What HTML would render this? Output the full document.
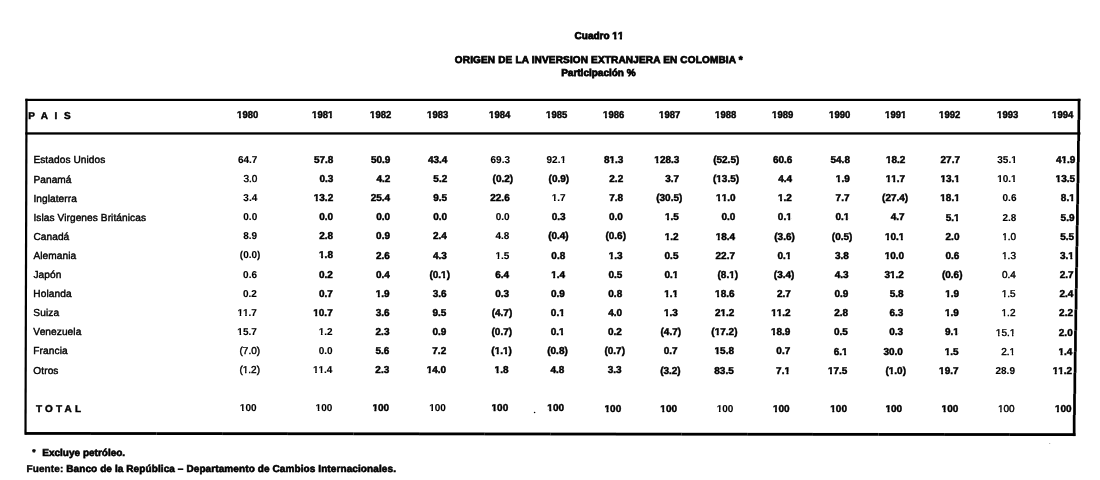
<!DOCTYPE html>
<html><head><meta charset="utf-8"><title>Cuadro 11</title>
<style>
html,body{margin:0;padding:0;background:#fff;}
body{width:1100px;height:480px;position:relative;overflow:hidden;}
.t{position:absolute;white-space:nowrap;text-rendering:geometricPrecision;font-family:"Liberation Sans", Arial, Helvetica, sans-serif;font-size:10px;line-height:10px;color:#000;-webkit-text-stroke:0.4px #000;}
.b{font-weight:bold;-webkit-text-stroke:0.45px #000;}
.m{font-weight:bold;-webkit-text-stroke:0.1px #000;}
.lab{font-size:10.15px;letter-spacing:0.08px;-webkit-text-stroke:0.4px #000;}
.n{font-weight:normal;}
.o{display:inline-block;clip-path:polygon(-2px -4px,8px -4px,8px 5.0px,3.98px 5.0px,3.98px 12px,2.06px 12px,2.06px 5.0px,-2px 5.0px);}
.n .o{clip-path:polygon(-2px -4px,8px -4px,8px 5.45px,3.63px 5.45px,3.63px 12px,2.28px 12px,2.28px 5.45px,-2px 5.45px);}
.m .o{clip-path:polygon(-2px -4px,8px -4px,8px 5.1px,3.85px 5.1px,3.85px 12px,2.2px 12px,2.2px 5.1px,-2px 5.1px);}
.hv .o{clip-path:polygon(-2px -4px,8px -4px,8px 4.75px,4.1px 4.75px,4.1px 12px,1.9px 12px,1.9px 4.75px,-2px 4.75px);}

.hd{transform:scaleX(0.95);transform-origin:100% 50%;}
.hv{-webkit-text-stroke:0.75px #000;}
.ft{-webkit-text-stroke:0.6px #000;}
.lt{-webkit-text-stroke:0.4px #000;}
.c{transform:translateX(-50%);}
.r{text-align:right;}
.p{margin-right:-3.33px;}
svg{position:absolute;left:0;top:0;}
</style></head><body>
<svg width="1100" height="480" viewBox="0 0 1100 480" fill="#000">
<rect x="25.30" y="98.8" width="1055.20" height="2.2"/>
<rect x="25.30" y="132.3" width="1055.20" height="2.3"/>
<rect x="25.27" y="432.04" width="65.68" height="2.8"/>
<rect x="90.91" y="432.12" width="65.68" height="2.8"/>
<rect x="156.54" y="432.19" width="65.68" height="2.8"/>
<rect x="222.17" y="432.27" width="65.68" height="2.8"/>
<rect x="287.80" y="432.35" width="65.68" height="2.8"/>
<rect x="353.44" y="432.42" width="65.68" height="2.8"/>
<rect x="419.07" y="432.50" width="65.68" height="2.8"/>
<rect x="484.70" y="432.58" width="65.68" height="2.8"/>
<rect x="550.33" y="432.65" width="65.68" height="2.8"/>
<rect x="615.97" y="432.73" width="65.68" height="2.8"/>
<rect x="681.60" y="432.81" width="65.68" height="2.8"/>
<rect x="747.23" y="432.88" width="65.68" height="2.8"/>
<rect x="812.86" y="432.96" width="65.68" height="2.8"/>
<rect x="878.50" y="433.03" width="65.68" height="2.8"/>
<rect x="944.13" y="433.11" width="65.68" height="2.8"/>
<rect x="1009.76" y="433.19" width="65.68" height="2.8"/>
<polygon points="25.4,98.8 27.6,98.8 26.6,434.80 24.4,434.80"/>
<rect x="1077.66" y="98.80" width="2.7" height="21.13"/>
<rect x="1077.33" y="119.87" width="2.7" height="21.13"/>
<rect x="1077.01" y="140.95" width="2.7" height="21.13"/>
<rect x="1076.69" y="162.03" width="2.7" height="21.13"/>
<rect x="1076.37" y="183.11" width="2.7" height="21.13"/>
<rect x="1076.04" y="204.18" width="2.7" height="21.13"/>
<rect x="1075.72" y="225.26" width="2.7" height="21.13"/>
<rect x="1075.40" y="246.34" width="2.7" height="21.13"/>
<rect x="1075.07" y="267.42" width="2.7" height="21.13"/>
<rect x="1074.75" y="288.49" width="2.7" height="21.13"/>
<rect x="1074.43" y="309.57" width="2.7" height="21.13"/>
<rect x="1074.10" y="330.65" width="2.7" height="21.13"/>
<rect x="1073.78" y="351.73" width="2.7" height="21.13"/>
<rect x="1073.46" y="372.80" width="2.7" height="21.13"/>
<rect x="1073.14" y="393.88" width="2.7" height="21.13"/>
<rect x="1072.81" y="414.96" width="2.7" height="21.13"/>
<circle cx="534.6" cy="412.5" r="0.8"/>
<circle cx="1049.7" cy="443.5" r="0.6" fill="#999"/>
</svg>
<div class="t b c hv" style="left:599.00px;top:31.80px;">Cuadro <span class="o">1</span><span class="o">1</span></div>
<div class="t b c hv" style="left:598.80px;top:56.40px;letter-spacing:0.17px;">ORIGEN DE LA INVERSION EXTRANJERA EN COLOMBIA *</div>
<div class="t b c hv" style="left:598.40px;top:69.00px;">Participación %</div>
<div class="t b" style="left:28.20px;top:111.90px;letter-spacing:6.6px;">PAIS</div>
<div class="t r b hd" style="right:841.50px;top:111.32px;"><span class="o">1</span>980</div>
<div class="t r b hd" style="right:767.00px;top:111.32px;"><span class="o">1</span>98<span class="o">1</span></div>
<div class="t r b hd" style="right:708.70px;top:111.32px;"><span class="o">1</span>982</div>
<div class="t r b hd" style="right:651.50px;top:111.33px;"><span class="o">1</span>983</div>
<div class="t r b hd" style="right:589.30px;top:111.33px;"><span class="o">1</span>984</div>
<div class="t r b hd" style="right:532.80px;top:111.34px;"><span class="o">1</span>985</div>
<div class="t r b hd" style="right:476.10px;top:111.34px;"><span class="o">1</span>986</div>
<div class="t r b hd" style="right:419.70px;top:111.34px;"><span class="o">1</span>987</div>
<div class="t r b hd" style="right:363.30px;top:111.35px;"><span class="o">1</span>988</div>
<div class="t r b hd" style="right:307.00px;top:111.35px;"><span class="o">1</span>989</div>
<div class="t r b hd" style="right:249.70px;top:111.36px;"><span class="o">1</span>990</div>
<div class="t r b hd" style="right:194.20px;top:111.36px;"><span class="o">1</span>99<span class="o">1</span></div>
<div class="t r b hd" style="right:139.70px;top:111.36px;"><span class="o">1</span>992</div>
<div class="t r b hd" style="right:81.50px;top:111.37px;"><span class="o">1</span>993</div>
<div class="t r b hd" style="right:27.00px;top:111.37px;"><span class="o">1</span>994</div>
<div class="t lab" style="left:33.40px;top:156.40px;">Estados Unidos</div>
<div class="t r m" style="right:842.61px;top:155.85px;">64.7</div>
<div class="t r b" style="right:766.62px;top:155.87px;">57.8</div>
<div class="t r b" style="right:709.62px;top:155.88px;">50.9</div>
<div class="t r b" style="right:652.62px;top:155.89px;">43.4</div>
<div class="t r m" style="right:590.03px;top:155.91px;">69.3</div>
<div class="t r m" style="right:534.03px;top:155.92px;">92.<span class="o">1</span></div>
<div class="t r b" style="right:476.63px;top:155.93px;">8<span class="o">1</span>.3</div>
<div class="t r b" style="right:420.63px;top:155.95px;"><span class="o">1</span>28.3</div>
<div class="t r b" style="right:364.04px;top:155.96px;">(52.5<span class="p">)</span></div>
<div class="t r b" style="right:307.64px;top:155.97px;">60.6</div>
<div class="t r b" style="right:250.04px;top:155.98px;">54.8</div>
<div class="t r b" style="right:194.65px;top:156.00px;"><span class="o">1</span>8.2</div>
<div class="t r b" style="right:140.02px;top:156.01px;">27.7</div>
<div class="t r m" style="right:83.23px;top:156.02px;">35.<span class="o">1</span></div>
<div class="t r b" style="right:24.66px;top:156.03px;">4<span class="o">1</span>.9</div>
<div class="t lab" style="left:33.40px;top:175.50px;">Panamá</div>
<div class="t r n" style="right:842.68px;top:174.97px;">3.0</div>
<div class="t r b" style="right:766.70px;top:174.99px;">0.3</div>
<div class="t r b" style="right:709.72px;top:175.01px;">4.2</div>
<div class="t r b" style="right:652.74px;top:175.02px;">5.2</div>
<div class="t r b" style="right:590.16px;top:175.04px;">(0.2<span class="p">)</span></div>
<div class="t r b" style="right:534.18px;top:175.06px;">(0.9<span class="p">)</span></div>
<div class="t r b" style="right:476.80px;top:175.07px;">2.2</div>
<div class="t r b" style="right:420.82px;top:175.09px;">3.7</div>
<div class="t r b" style="right:364.24px;top:175.11px;">(<span class="o">1</span>3.5<span class="p">)</span></div>
<div class="t r b" style="right:307.85px;top:175.12px;">4.4</div>
<div class="t r b" style="right:250.27px;top:175.14px;"><span class="o">1</span>.9</div>
<div class="t r b" style="right:194.89px;top:175.15px;"><span class="o">1</span><span class="o">1</span>.7</div>
<div class="t r b" style="right:140.15px;top:175.17px;"><span class="o">1</span>3.<span class="o">1</span></div>
<div class="t r m" style="right:83.40px;top:175.19px;"><span class="o">1</span>0.<span class="o">1</span></div>
<div class="t r b" style="right:24.95px;top:175.20px;"><span class="o">1</span>3.5</div>
<div class="t lab" style="left:33.39px;top:194.60px;">Inglaterra</div>
<div class="t r m" style="right:842.74px;top:194.08px;">3.4</div>
<div class="t r b" style="right:766.79px;top:194.11px;"><span class="o">1</span>3.2</div>
<div class="t r b" style="right:709.82px;top:194.13px;">25.4</div>
<div class="t r b" style="right:652.86px;top:194.15px;">9.5</div>
<div class="t r b" style="right:590.30px;top:194.17px;">22.6</div>
<div class="t r m" style="right:534.33px;top:194.19px;"><span class="o">1</span>.7</div>
<div class="t r b" style="right:476.97px;top:194.21px;">7.8</div>
<div class="t r b" style="right:421.00px;top:194.23px;">(30.5<span class="p">)</span></div>
<div class="t r b" style="right:364.43px;top:194.25px;"><span class="o">1</span><span class="o">1</span>.0</div>
<div class="t r b" style="right:308.07px;top:194.27px;"><span class="o">1</span>.2</div>
<div class="t r b" style="right:250.50px;top:194.29px;">7.7</div>
<div class="t r b" style="right:195.14px;top:194.31px;">(27.4<span class="p">)</span></div>
<div class="t r b" style="right:140.28px;top:194.33px;"><span class="o">1</span>8.<span class="o">1</span></div>
<div class="t r m" style="right:83.56px;top:194.35px;">0.6</div>
<div class="t r b" style="right:25.24px;top:194.37px;">8.<span class="o">1</span></div>
<div class="t lab" style="left:33.39px;top:213.70px;">Islas Virgenes Británicas</div>
<div class="t r m" style="right:842.81px;top:213.20px;">0.0</div>
<div class="t r b" style="right:766.88px;top:213.23px;">0.0</div>
<div class="t r b" style="right:709.93px;top:213.25px;">0.0</div>
<div class="t r b" style="right:652.98px;top:213.28px;">0.0</div>
<div class="t r m" style="right:590.43px;top:213.31px;">0.0</div>
<div class="t r b" style="right:534.48px;top:213.33px;">0.3</div>
<div class="t r b" style="right:477.13px;top:213.35px;">0.0</div>
<div class="t r b" style="right:421.18px;top:213.38px;"><span class="o">1</span>.5</div>
<div class="t r b" style="right:364.63px;top:213.40px;">0.0</div>
<div class="t r b" style="right:308.28px;top:213.42px;">0.<span class="o">1</span></div>
<div class="t r b" style="right:250.73px;top:213.45px;">0.<span class="o">1</span></div>
<div class="t r b" style="right:195.38px;top:213.47px;">4.7</div>
<div class="t r b" style="right:140.42px;top:213.50px;">5.<span class="o">1</span></div>
<div class="t r m" style="right:83.73px;top:213.52px;">2.8</div>
<div class="t r b" style="right:25.53px;top:213.54px;">5.9</div>
<div class="t lab" style="left:33.38px;top:232.80px;">Canadá</div>
<div class="t r m" style="right:842.88px;top:232.31px;">8.9</div>
<div class="t r b" style="right:766.96px;top:232.35px;">2.8</div>
<div class="t r b" style="right:710.03px;top:232.38px;">0.9</div>
<div class="t r b" style="right:653.10px;top:232.41px;">2.4</div>
<div class="t r m" style="right:590.57px;top:232.44px;">4.8</div>
<div class="t r b" style="right:534.63px;top:232.46px;">(0.4<span class="p">)</span></div>
<div class="t r b" style="right:477.30px;top:232.49px;">(0.6<span class="p">)</span></div>
<div class="t r b" style="right:421.36px;top:232.52px;"><span class="o">1</span>.2</div>
<div class="t r b" style="right:364.83px;top:232.55px;"><span class="o">1</span>8.4</div>
<div class="t r b" style="right:308.50px;top:232.58px;">(3.6<span class="p">)</span></div>
<div class="t r b" style="right:250.96px;top:232.60px;">(0.5<span class="p">)</span></div>
<div class="t r b" style="right:195.63px;top:232.63px;"><span class="o">1</span>0.<span class="o">1</span></div>
<div class="t r b" style="right:140.55px;top:232.66px;">2.0</div>
<div class="t r n" style="right:83.89px;top:232.69px;"><span class="o">1</span>.0</div>
<div class="t r b" style="right:25.82px;top:232.71px;">5.5</div>
<div class="t lab" style="left:33.38px;top:251.90px;">Alemania</div>
<div class="t r m" style="right:842.94px;top:251.43px;">(0.0<span class="p">)</span></div>
<div class="t r b" style="right:767.05px;top:251.47px;"><span class="o">1</span>.8</div>
<div class="t r b" style="right:710.13px;top:251.50px;">2.6</div>
<div class="t r b" style="right:653.21px;top:251.53px;">4.3</div>
<div class="t r m" style="right:590.70px;top:251.57px;"><span class="o">1</span>.5</div>
<div class="t r b" style="right:534.78px;top:251.60px;">0.8</div>
<div class="t r b" style="right:477.47px;top:251.63px;"><span class="o">1</span>.3</div>
<div class="t r b" style="right:421.55px;top:251.66px;">0.5</div>
<div class="t r b" style="right:365.03px;top:251.70px;">22.7</div>
<div class="t r b" style="right:308.71px;top:251.73px;">0.<span class="o">1</span></div>
<div class="t r b" style="right:251.19px;top:251.76px;">3.8</div>
<div class="t r b" style="right:195.87px;top:251.79px;"><span class="o">1</span>0.0</div>
<div class="t r b" style="right:140.68px;top:251.82px;">0.6</div>
<div class="t r n" style="right:84.06px;top:251.85px;"><span class="o">1</span>.3</div>
<div class="t r b" style="right:26.12px;top:251.88px;">3.<span class="o">1</span></div>
<div class="t lab" style="left:33.38px;top:271.01px;">Japón</div>
<div class="t r m" style="right:843.01px;top:270.54px;">0.6</div>
<div class="t r b" style="right:767.14px;top:270.59px;">0.2</div>
<div class="t r b" style="right:710.23px;top:270.63px;">0.4</div>
<div class="t r b" style="right:653.33px;top:270.66px;">(0.<span class="o">1</span><span class="p">)</span></div>
<div class="t r b" style="right:590.84px;top:270.70px;">6.4</div>
<div class="t r b" style="right:534.94px;top:270.74px;"><span class="o">1</span>.4</div>
<div class="t r b" style="right:477.63px;top:270.77px;">0.5</div>
<div class="t r b" style="right:421.73px;top:270.81px;">0.<span class="o">1</span></div>
<div class="t r b" style="right:365.23px;top:270.84px;">(8.<span class="o">1</span><span class="p">)</span></div>
<div class="t r b" style="right:308.92px;top:270.88px;">(3.4<span class="p">)</span></div>
<div class="t r b" style="right:251.42px;top:270.91px;">4.3</div>
<div class="t r b" style="right:196.12px;top:270.95px;">3<span class="o">1</span>.2</div>
<div class="t r b" style="right:140.81px;top:270.98px;">(0.6<span class="p">)</span></div>
<div class="t r n" style="right:84.23px;top:271.02px;">0.4</div>
<div class="t r b" style="right:26.41px;top:271.05px;">2.7</div>
<div class="t lab" style="left:33.37px;top:290.11px;">Holanda</div>
<div class="t r m" style="right:843.07px;top:289.66px;">0.2</div>
<div class="t r b" style="right:767.22px;top:289.71px;">0.7</div>
<div class="t r b" style="right:710.34px;top:289.75px;"><span class="o">1</span>.9</div>
<div class="t r b" style="right:653.45px;top:289.79px;">3.6</div>
<div class="t r b" style="right:590.98px;top:289.83px;">0.3</div>
<div class="t r b" style="right:535.09px;top:289.87px;">0.9</div>
<div class="t r b" style="right:477.80px;top:289.91px;">0.8</div>
<div class="t r b" style="right:421.91px;top:289.95px;"><span class="o">1</span>.<span class="o">1</span></div>
<div class="t r b" style="right:365.43px;top:289.99px;"><span class="o">1</span>8.6</div>
<div class="t r b" style="right:309.14px;top:290.03px;">2.7</div>
<div class="t r b" style="right:251.65px;top:290.07px;">0.9</div>
<div class="t r b" style="right:196.36px;top:290.11px;">5.8</div>
<div class="t r b" style="right:140.94px;top:290.15px;"><span class="o">1</span>.9</div>
<div class="t r n" style="right:84.39px;top:290.18px;"><span class="o">1</span>.5</div>
<div class="t r b" style="right:26.70px;top:290.22px;">2.4</div>
<div class="t lab" style="left:33.37px;top:309.21px;">Suiza</div>
<div class="t r m" style="right:843.14px;top:308.78px;"><span class="o">1</span><span class="o">1</span>.7</div>
<div class="t r b" style="right:767.31px;top:308.83px;"><span class="o">1</span>0.7</div>
<div class="t r b" style="right:710.44px;top:308.88px;">3.6</div>
<div class="t r b" style="right:653.57px;top:308.92px;">9.5</div>
<div class="t r b" style="right:591.11px;top:308.97px;">(4.7<span class="p">)</span></div>
<div class="t r b" style="right:535.24px;top:309.01px;">0.<span class="o">1</span></div>
<div class="t r b" style="right:477.97px;top:309.05px;">4.0</div>
<div class="t r b" style="right:422.10px;top:309.09px;"><span class="o">1</span>.3</div>
<div class="t r b" style="right:365.62px;top:309.14px;">2<span class="o">1</span>.2</div>
<div class="t r b" style="right:309.35px;top:309.18px;"><span class="o">1</span><span class="o">1</span>.2</div>
<div class="t r b" style="right:251.88px;top:309.22px;">2.8</div>
<div class="t r b" style="right:196.61px;top:309.27px;">6.3</div>
<div class="t r b" style="right:141.07px;top:309.31px;"><span class="o">1</span>.9</div>
<div class="t r n" style="right:84.56px;top:309.35px;"><span class="o">1</span>.2</div>
<div class="t r b" style="right:26.99px;top:309.39px;">2.2</div>
<div class="t lab" style="left:33.37px;top:328.31px;">Venezuela</div>
<div class="t r m" style="right:843.20px;top:327.89px;"><span class="o">1</span>5.7</div>
<div class="t r m" style="right:767.40px;top:327.95px;"><span class="o">1</span>.2</div>
<div class="t r b" style="right:710.54px;top:328.00px;">2.3</div>
<div class="t r b" style="right:653.69px;top:328.05px;">0.9</div>
<div class="t r b" style="right:591.25px;top:328.10px;">(0.7<span class="p">)</span></div>
<div class="t r b" style="right:535.39px;top:328.14px;">0.<span class="o">1</span></div>
<div class="t r b" style="right:478.14px;top:328.19px;">0.2</div>
<div class="t r b" style="right:422.28px;top:328.24px;">(4.7<span class="p">)</span></div>
<div class="t r b" style="right:365.82px;top:328.28px;">(<span class="o">1</span>7.2<span class="p">)</span></div>
<div class="t r b" style="right:309.57px;top:328.33px;"><span class="o">1</span>8.9</div>
<div class="t r b" style="right:252.11px;top:328.38px;">0.5</div>
<div class="t r b" style="right:196.85px;top:328.42px;">0.3</div>
<div class="t r b" style="right:141.20px;top:328.47px;">9.<span class="o">1</span></div>
<div class="t r n" style="right:84.72px;top:328.52px;"><span class="o">1</span>5.<span class="o">1</span></div>
<div class="t r b" style="right:27.29px;top:328.56px;">2.0</div>
<div class="t lab" style="left:33.36px;top:347.41px;">Francia</div>
<div class="t r n" style="right:843.27px;top:347.01px;">(7.0<span class="p">)</span></div>
<div class="t r m" style="right:767.48px;top:347.07px;">0.0</div>
<div class="t r b" style="right:710.65px;top:347.12px;">5.6</div>
<div class="t r b" style="right:653.81px;top:347.18px;">7.2</div>
<div class="t r b" style="right:591.38px;top:347.23px;">(<span class="o">1</span>.<span class="o">1</span><span class="p">)</span></div>
<div class="t r b" style="right:535.54px;top:347.28px;">(0.8<span class="p">)</span></div>
<div class="t r b" style="right:478.30px;top:347.33px;">(0.7<span class="p">)</span></div>
<div class="t r b" style="right:422.46px;top:347.38px;">0.7</div>
<div class="t r b" style="right:366.02px;top:347.43px;"><span class="o">1</span>5.8</div>
<div class="t r b" style="right:309.78px;top:347.48px;">0.7</div>
<div class="t r b" style="right:252.34px;top:347.53px;">6.<span class="o">1</span></div>
<div class="t r b" style="right:197.10px;top:347.58px;">30.0</div>
<div class="t r b" style="right:141.33px;top:347.63px;"><span class="o">1</span>.5</div>
<div class="t r n" style="right:84.89px;top:347.68px;">2.<span class="o">1</span></div>
<div class="t r b" style="right:27.58px;top:347.73px;"><span class="o">1</span>.4</div>
<div class="t lab" style="left:33.36px;top:366.51px;">Otros</div>
<div class="t r n" style="right:843.34px;top:366.12px;">(<span class="o">1</span>.2<span class="p">)</span></div>
<div class="t r m" style="right:767.57px;top:366.19px;"><span class="o">1</span><span class="o">1</span>.4</div>
<div class="t r b" style="right:710.75px;top:366.25px;">2.3</div>
<div class="t r b" style="right:653.92px;top:366.30px;"><span class="o">1</span>4.0</div>
<div class="t r b" style="right:591.52px;top:366.36px;"><span class="o">1</span>.8</div>
<div class="t r b" style="right:535.69px;top:366.42px;">4.8</div>
<div class="t r b" style="right:478.47px;top:366.47px;">3.3</div>
<div class="t r b" style="right:422.64px;top:366.52px;">(3.2<span class="p">)</span></div>
<div class="t r b" style="right:366.22px;top:366.58px;">83.5</div>
<div class="t r b" style="right:309.99px;top:366.63px;">7.<span class="o">1</span></div>
<div class="t r b" style="right:252.57px;top:366.69px;"><span class="o">1</span>7.5</div>
<div class="t r b" style="right:197.34px;top:366.74px;">(<span class="o">1</span>.0<span class="p">)</span></div>
<div class="t r b" style="right:141.46px;top:366.79px;"><span class="o">1</span>9.7</div>
<div class="t r m" style="right:85.05px;top:366.85px;">28.9</div>
<div class="t r b" style="right:27.87px;top:366.90px;"><span class="o">1</span><span class="o">1</span>.2</div>
<div class="t b" style="left:35.94px;top:404.91px;letter-spacing:3.2px;">TOTAL</div>
<div class="t r m" style="right:843.47px;top:404.15px;"><span class="o">1</span>00</div>
<div class="t r m" style="right:767.74px;top:404.24px;"><span class="o">1</span>00</div>
<div class="t r b" style="right:710.95px;top:404.30px;"><span class="o">1</span>00</div>
<div class="t r m" style="right:654.16px;top:404.36px;"><span class="o">1</span>00</div>
<div class="t r b" style="right:591.79px;top:404.43px;"><span class="o">1</span>00</div>
<div class="t r b" style="right:535.99px;top:404.49px;"><span class="o">1</span>00</div>
<div class="t r b" style="right:478.80px;top:404.55px;"><span class="o">1</span>00</div>
<div class="t r b" style="right:423.01px;top:404.61px;"><span class="o">1</span>00</div>
<div class="t r m" style="right:366.61px;top:404.67px;"><span class="o">1</span>00</div>
<div class="t r b" style="right:310.42px;top:404.73px;"><span class="o">1</span>00</div>
<div class="t r b" style="right:253.03px;top:404.80px;"><span class="o">1</span>00</div>
<div class="t r b" style="right:197.83px;top:404.86px;"><span class="o">1</span>00</div>
<div class="t r b" style="right:141.72px;top:404.92px;"><span class="o">1</span>00</div>
<div class="t r n" style="right:85.38px;top:404.98px;"><span class="o">1</span>00</div>
<div class="t r b" style="right:28.45px;top:405.04px;"><span class="o">1</span>00</div>
<div class="t b" style="left:32.20px;top:447.21px;font-size:8.5px;">*</div>
<div class="t b ft" style="left:42.30px;top:448.62px;">Excluye petróleo.</div>
<div class="t b ft" style="left:26.50px;top:465.40px;letter-spacing:0.1px;"><span class="lt">Fuente:</span> Banco de la República – Departamento de Cambios Internacionales.</div>
</body></html>
